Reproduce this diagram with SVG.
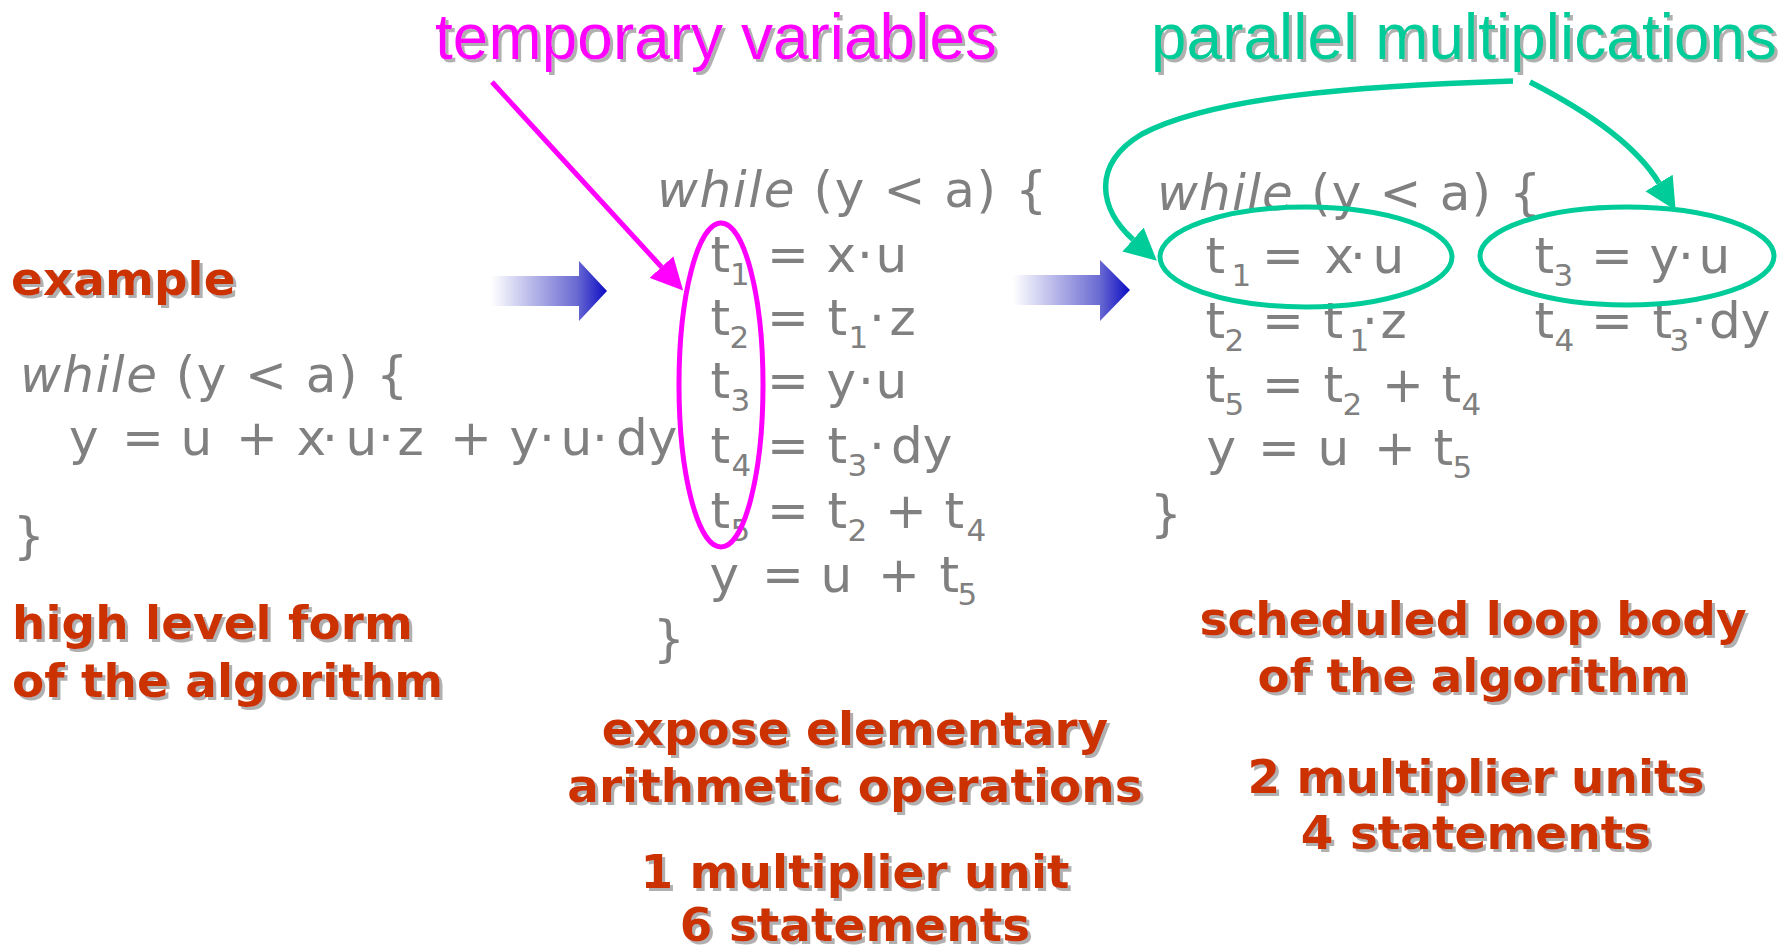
<svg xmlns="http://www.w3.org/2000/svg" width="1791" height="952" viewBox="0 0 1791 952">
<style>
.code{font-family:"DejaVu Sans",sans-serif;font-size:50px;fill:#808080}
.it{font-style:italic}
.sub{font-size:31px}
.lbl{font-family:"DejaVu Sans","Verdana",sans-serif;font-weight:bold;font-size:47px;fill:#CC3300}
.ttl{font-family:"Liberation Sans",Arial,sans-serif;font-size:64px}
.mag{fill:#FF00FF}
.teal{fill:#00CC99}
.ring{fill:none;stroke-width:5}
</style>
<defs>
<filter id="sh" x="-5%" y="-10%" width="115%" height="140%">
<feFlood flood-color="#b0b0b0"/>
<feComposite in2="SourceAlpha" operator="in"/>
<feOffset dx="3" dy="3" result="s"/>
<feMerge><feMergeNode in="s"/><feMergeNode in="SourceGraphic"/></feMerge>
</filter>
<linearGradient id="blueg" x1="0" y1="0" x2="1" y2="0">
<stop offset="0" stop-color="#ffffff"/>
<stop offset="0.74" stop-color="#6a6ad2"/>
<stop offset="1" stop-color="#0c0cc4"/>
</linearGradient>
<marker id="hm" markerUnits="userSpaceOnUse" markerWidth="32" markerHeight="32" viewBox="0 0 30 30" refX="0" refY="15" orient="auto">
<path d="M0,0 L30,15 L0,30 Z" fill="#FF00FF"/>
</marker>
<marker id="ht" markerUnits="userSpaceOnUse" markerWidth="32" markerHeight="32" viewBox="0 0 30 30" refX="0" refY="15" orient="auto">
<path d="M0,0 L30,15 L0,30 Z" fill="#00CC99"/>
</marker>
</defs>
<rect width="1791" height="952" fill="#ffffff"/>

<g id="title-temp" filter="url(#sh)"><text class="ttl mag" x="435" y="59">temporary variables</text></g>
<g id="title-par" filter="url(#sh)"><text class="ttl teal" x="1151" y="59">parallel multiplications</text></g>

<g id="left-block">
<text class="lbl" x="11" y="295" filter="url(#sh)">example</text>
<text class="code" x="20" y="392" textLength="388" lengthAdjust="spacing"><tspan class="it">while</tspan> (y &lt; a) {</text>
<text class="code" x="69 122 180.5 236 296.5 322 345.5 378 397.5 450 509.5 539 560.5 592 616" y="455">y=u+x·u·z+y·u·dy</text>
<text class="code" x="13" y="553">}</text>
<g filter="url(#sh)">
<text class="lbl" x="12" y="639">high level form</text>
<text class="lbl" x="12" y="697">of the algorithm</text>
</g>
</g>

<g id="middle-block">
<text class="code" x="657" y="207" textLength="390" lengthAdjust="spacing"><tspan class="it">while</tspan> (y &lt; a) {</text>
<text class="code" y="272"><tspan x="710.5">t</tspan><tspan class="sub" x="730" dy="13">1</tspan><tspan x="767 826.5 857 875.5" dy="-13">=x·u</tspan></text>
<text class="code" y="335"><tspan x="710.5">t</tspan><tspan class="sub" x="729.5" dy="13">2</tspan><tspan x="767 827.5" dy="-13">=t</tspan><tspan class="sub" x="848.6" dy="13">1</tspan><tspan x="869 889.5" dy="-13">·z</tspan></text>
<text class="code" y="398"><tspan x="710.5">t</tspan><tspan class="sub" x="730.5" dy="13">3</tspan><tspan x="767 826.5 858 875.5" dy="-13">=y·u</tspan></text>
<text class="code" y="463"><tspan x="710.5">t</tspan><tspan class="sub" x="731.5" dy="13">4</tspan><tspan x="767 827.5" dy="-13">=t</tspan><tspan class="sub" x="847.5" dy="13">3</tspan><tspan x="869 891" dy="-13">·dy</tspan></text>
<text class="code" y="528"><tspan x="710.5">t</tspan><tspan class="sub" x="730.5" dy="13">5</tspan><tspan x="767 827.5" dy="-13">=t</tspan><tspan class="sub" x="847.5" dy="13">2</tspan><tspan x="885 944.5" dy="-13">+t</tspan><tspan class="sub" x="966.5" dy="13">4</tspan></text>
<text class="code" y="592"><tspan x="709.5 762 820.5 878 939.5">y=u+t</tspan><tspan class="sub" x="957.5" dy="13">5</tspan></text>
<text class="code" x="653" y="656">}</text>
<g filter="url(#sh)">
<text class="lbl" x="855" y="745" text-anchor="middle">expose elementary</text>
<text class="lbl" x="855" y="802" text-anchor="middle">arithmetic operations</text>
<text class="lbl" x="855" y="888" text-anchor="middle">1 multiplier unit</text>
<text class="lbl" x="855" y="941" text-anchor="middle">6 statements</text>
</g>
</g>

<g id="right-block">
<text class="code" x="1157" y="210" textLength="384" lengthAdjust="spacing"><tspan class="it">while</tspan> (y &lt; a) {</text>
<text class="code" y="273"><tspan x="1205.5">t</tspan><tspan class="sub" x="1231.6" dy="13">1</tspan><tspan x="1262 1324.5 1350 1372.5" dy="-13">=x·u</tspan></text>
<text class="code" y="273"><tspan x="1534.5">t</tspan><tspan class="sub" x="1553.5" dy="13">3</tspan><tspan x="1591 1649.5 1678 1698.5" dy="-13">=y·u</tspan></text>
<text class="code" y="338"><tspan x="1205.5">t</tspan><tspan class="sub" x="1224.5" dy="13">2</tspan><tspan x="1262 1323.5" dy="-13">=t</tspan><tspan class="sub" x="1349.6" dy="13">1</tspan><tspan x="1362 1380.5" dy="-13">·z</tspan></text>
<text class="code" y="338"><tspan x="1534.5">t</tspan><tspan class="sub" x="1554.5" dy="13">4</tspan><tspan x="1591 1652.5" dy="-13">=t</tspan><tspan class="sub" x="1669.5" dy="13">3</tspan><tspan x="1691 1709" dy="-13">·dy</tspan></text>
<text class="code" y="402"><tspan x="1205.5">t</tspan><tspan class="sub" x="1224.5" dy="13">5</tspan><tspan x="1262 1323.5" dy="-13">=t</tspan><tspan class="sub" x="1342.5" dy="13">2</tspan><tspan x="1382 1441.5" dy="-13">+t</tspan><tspan class="sub" x="1461.5" dy="13">4</tspan></text>
<text class="code" y="465"><tspan x="1206.5 1258 1317.5 1374 1433.5">y=u+t</tspan><tspan class="sub" x="1452.5" dy="13">5</tspan></text>
<text class="code" x="1150" y="531">}</text>
<g filter="url(#sh)">
<text class="lbl" x="1473" y="635" text-anchor="middle">scheduled loop body</text>
<text class="lbl" x="1473" y="692" text-anchor="middle">of the algorithm</text>
<text class="lbl" x="1476" y="793" text-anchor="middle">2 multiplier units</text>
<text class="lbl" x="1476" y="849" text-anchor="middle">4 statements</text>
</g>
</g>

<g id="ring-temps"><ellipse class="ring" cx="721" cy="385" rx="42" ry="162" stroke="#FF00FF"/></g>
<g id="ring-t1"><ellipse class="ring" cx="1306" cy="257" rx="146" ry="50" stroke="#00CC99"/></g>
<g id="ring-t3"><ellipse class="ring" cx="1627" cy="256" rx="147" ry="49" stroke="#00CC99"/></g>

<g id="connectors">
<path d="M491,276 L579,276 L579,261 L607,291 L579,321 L579,306 L491,306 Z" fill="url(#blueg)"/>
<path d="M1013,275 L1100,275 L1100,260 L1130,290 L1100,321 L1100,305 L1013,305 Z" fill="url(#blueg)"/>
<path d="M492,82 L661.5,267" fill="none" stroke="#FF00FF" stroke-width="5" marker-end="url(#hm)"/>
<path d="M1513,81 C1360,86 1215,96 1142,134 C1090,165 1100,210 1133,239.5" fill="none" stroke="#00CC99" stroke-width="5.5" marker-end="url(#ht)"/>
<path d="M1530,82 Q1628,132 1659,183" fill="none" stroke="#00CC99" stroke-width="5.5" marker-end="url(#ht)"/>
</g>
</svg>
